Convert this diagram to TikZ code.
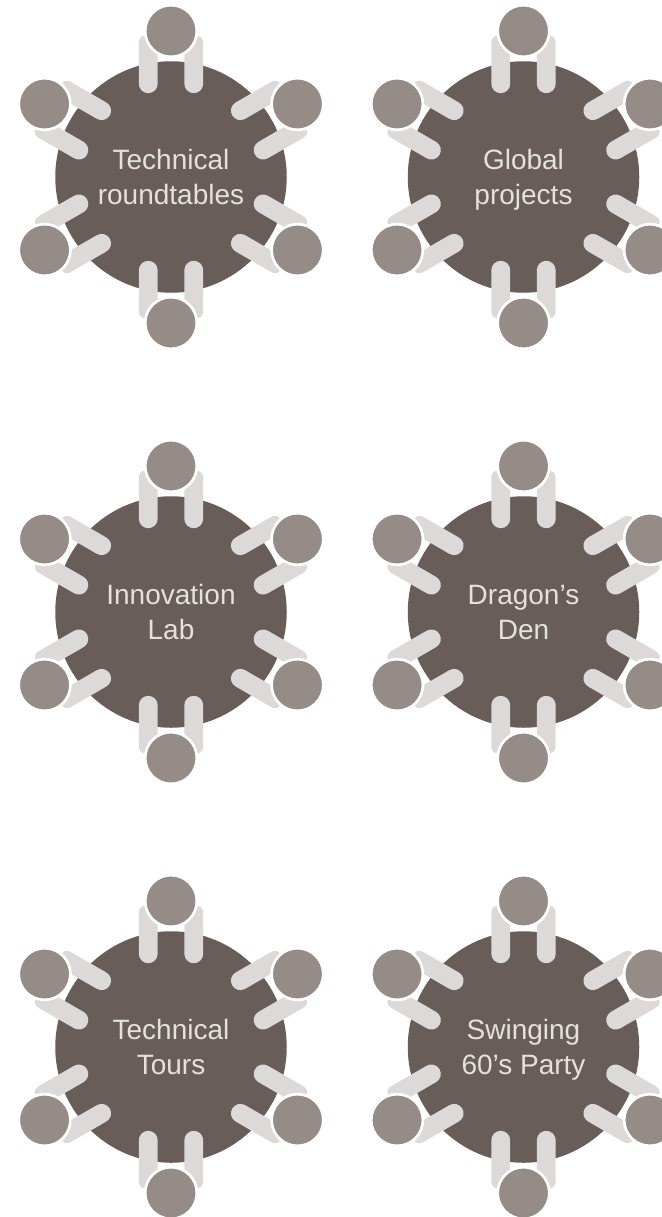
\documentclass[tikz,border=0pt]{standalone}
\usepackage{fontspec}
\setmainfont{Liberation Sans}
\definecolor{tablecol}{HTML}{695D59}
\definecolor{headcol}{HTML}{958C87}
\definecolor{armcol}{HTML}{DCD9D8}
\definecolor{textcol}{HTML}{E4E1DF}

\begin{document}
\begin{tikzpicture}[
    x=1pt, y=1pt,
    tablebox/.style={circle, fill=tablecol, inner sep=0pt, minimum size=231.5pt,
    text=textcol, align=center, font=\fontsize{28}{35}\selectfont,
    execute at begin node={\rule[-8pt]{0pt}{70.5pt}}},
    headbox/.style={circle, fill=headcol, draw=white, line width=2.7pt,
    inner sep=0pt, minimum size=51.7pt},
    armshape/.style={armcol},
    seat/.pic={
        \fill[armshape] (13.3,93.25) arc (180:360:9.45) -- (32.2,134)
            .. controls (32.2,138) and (30,141) .. (27,141) -- (13.3,141) -- cycle;
        \fill[armshape, xscale=-1] (13.3,93.25) arc (180:360:9.45) -- (32.2,134)
            .. controls (32.2,138) and (30,141) .. (27,141) -- (13.3,141) -- cycle;
        \node[headbox] (head) at (0,146) {};
    }]

    \useasboundingbox (0,0) rectangle (661,-1217);

    \foreach \px/\py/\tname/\ttext in {
        171/-177/round/{Technical\\roundtables},
        523.5/-177/global/{Global\\projects},
        171/-612/lab/{Innovation\\Lab},
        523.5/-612/den/{Dragon’s\\Den},
        171/-1047/tours/{Technical\\Tours},
        523.5/-1047/party/{Swinging\\60’s Party}} {
        \node[tablebox] (\tname) at (\px,\py) {\ttext};
        \foreach \ang in {0,60,...,300} {
            \path (\tname.center) pic[rotate=\ang] (\tname\ang) {seat};
        }
    }
\end{tikzpicture}
\end{document}
